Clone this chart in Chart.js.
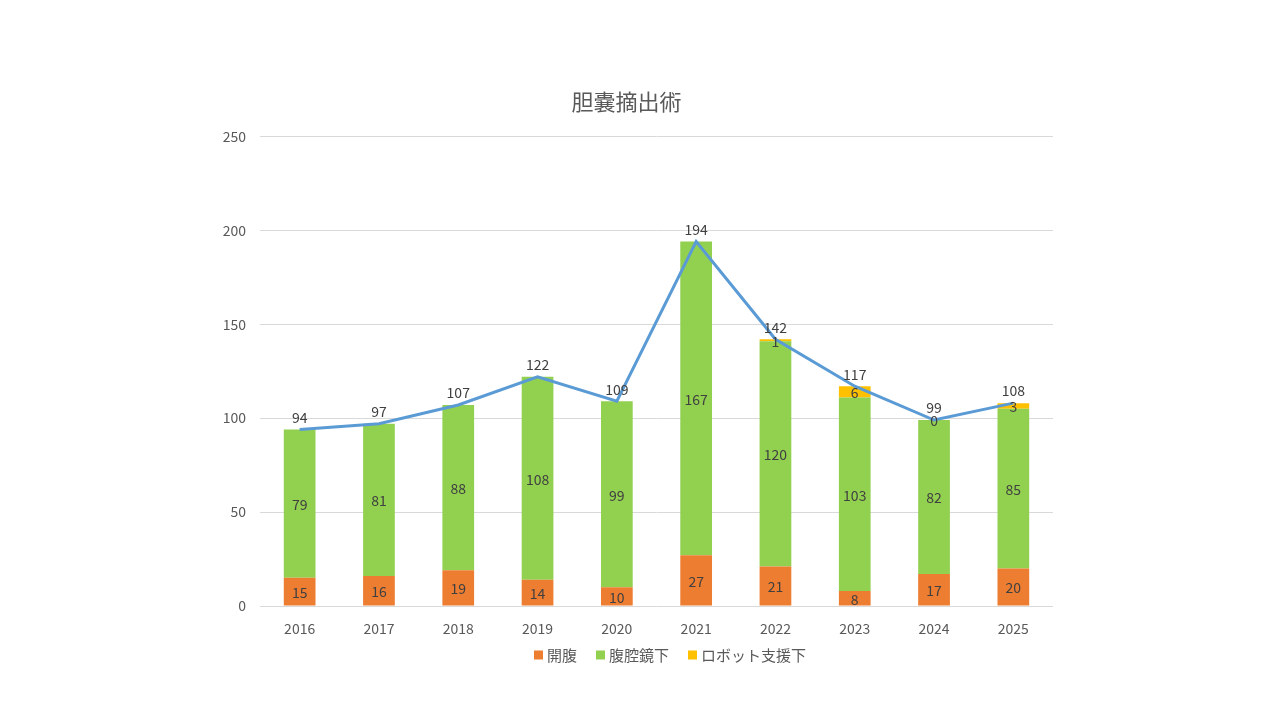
<!DOCTYPE html>
<html><head><meta charset="utf-8">
<script src="https://cdn.jsdelivr.net/npm/chart.js@4.4.1/dist/chart.umd.min.js"></script>
<style>html,body{margin:0;padding:0;background:#fff;}#wrap{width:1280px;height:720px;}</style>
</head><body><div id="wrap"><canvas id="c" width="1280" height="720"></canvas></div>
<script>
const categories = ['2016','2017','2018','2019','2020','2021','2022','2023','2024','2025'];
const openSurgery = [15,16,19,14,10,27,21,8,17,20];
const laparoscopic = [79,81,88,108,99,167,120,103,82,85];
const robotic = [null,null,null,null,null,null,1,6,0,3];
const totals = [94,97,107,122,109,194,142,117,99,108];
const yTicks = [0,50,100,150,200,250];

const FONT = "'Noto Sans CJK JP','Noto Sans',sans-serif";
const TXT = '#595959';

const labelPlugin = {
  id: 'labels',
  afterDatasetsDraw(chart) {
    const ctx = chart.ctx;
    ctx.save();
    ctx.font = "14px " + FONT;
    ctx.fillStyle = '#404040';
    ctx.textAlign = 'center';
    ctx.textBaseline = 'middle';
    chart.data.datasets.forEach((ds, di) => {
      const meta = chart.getDatasetMeta(di);
      meta.data.forEach((el, i) => {
        const v = ds.data[i];
        if (v === null || v === undefined) return;
        if (ds.type === 'line') {
          ctx.fillText(String(v), el.x, el.y - 12);
        } else {
          const y = (el.y + el.base) / 2;
          ctx.fillText(String(v), el.x, y + 1);
        }
      });
    });
    ctx.restore();
  }
};

const legendPlugin = {
  id: 'customLegend',
  afterDraw(chart) {
    const ctx = chart.ctx;
    ctx.save();
    ctx.font = "15px " + FONT;
    ctx.textBaseline = 'middle';
    ctx.textAlign = 'left';
    const items = chart.data.datasets.filter(d => d.type === 'bar');
    const gapBoxText = 4, gapItem = 19, box = 9;
    let total = 0;
    items.forEach((d, i) => { total += box + gapBoxText + ctx.measureText(d.label).width + (i < items.length - 1 ? gapItem : 0); });
    let x = 670 - total / 2;
    const y = 655;
    items.forEach(d => {
      ctx.fillStyle = d.backgroundColor;
      ctx.fillRect(x, y - box / 2, box, box);
      x += box + gapBoxText;
      ctx.fillStyle = TXT;
      ctx.fillText(d.label, x, y);
      x += ctx.measureText(d.label).width + gapItem;
    });
    ctx.restore();
  }
};

new Chart(document.getElementById('c'), {
  data: {
    labels: categories,
    datasets: [
      { type: 'line', label: '合計', data: totals, borderColor: '#5B9BD5', backgroundColor: '#5B9BD5',
        borderWidth: 3, pointRadius: 0, tension: 0, order: 0 },
      { type: 'bar', label: '開腹', data: openSurgery, backgroundColor: '#ED7D31', stack: 's', order: 1,
        barPercentage: 0.8, categoryPercentage: 0.5 },
      { type: 'bar', label: '腹腔鏡下', data: laparoscopic, backgroundColor: '#92D050', stack: 's', order: 1,
        barPercentage: 0.8, categoryPercentage: 0.5 },
      { type: 'bar', label: 'ロボット支援下', data: robotic, backgroundColor: '#FFC000', stack: 's', order: 1,
        barPercentage: 0.8, categoryPercentage: 0.5 }
    ]
  },
  options: {
    responsive: false,
    animation: false,
    layout: { padding: { left: 200, right: 227, top: 88, bottom: 84 } },
    plugins: {
      title: { display: true, text: '胆嚢摘出術', color: TXT, font: { family: FONT, size: 22, weight: 'normal' }, padding: { top: 0, bottom: 22 } },
      legend: { display: false },
      tooltip: { enabled: false }
    },
    scales: {
      x: { stacked: true, grid: { display: false }, border: { display: false },
        afterFit: (s) => { s.height = 30; },
        ticks: { color: TXT, font: { family: FONT, size: 14 }, padding: 6 } },
      y: { stacked: true, min: 0, max: 250,
        afterBuildTicks: (s) => { s.ticks = yTicks.map(v => ({ value: v })); },
        afterFit: (s) => { s.width = 60; },
        grid: { color: '#D9D9D9', drawTicks: false }, border: { display: false },
        ticks: { color: TXT, font: { family: FONT, size: 14 }, padding: 14 } }
    }
  },
  plugins: [labelPlugin, legendPlugin]
});
</script></body></html>
